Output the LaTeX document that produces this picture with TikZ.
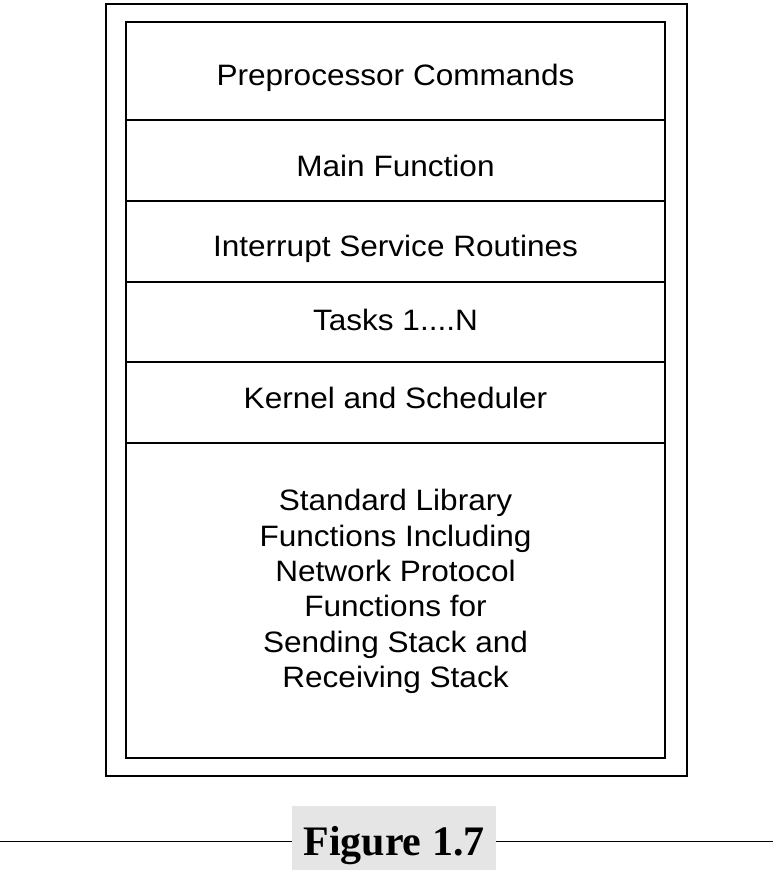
\documentclass[tikz,border=0pt]{standalone}
\usepackage{fontspec}
\setmainfont{Liberation Sans}[FakeStretch=1.07]
\newfontfamily\capfont{Liberation Serif}
\usetikzlibrary{positioning}
\tikzset{
  layer/.style={draw, line width=1.1pt, minimum width=539pt, inner sep=0pt,
    align=center, text depth=0pt, font=\fontsize{29.5}{35.4}\selectfont},
  caption/.style={fill=black!10, minimum width=204pt, minimum height=64pt,
    inner sep=0pt, text height=34pt, text depth=0pt,
    font=\capfont\bfseries\fontsize{42}{42}\selectfont}
}
\begin{document}
\begin{tikzpicture}[x=1pt, y=-1pt]
  \useasboundingbox (0,0) rectangle (773,872);
  \draw[line width=1.1pt] (106,4) rectangle (687,776);
  \path
    (395.5,71) node[layer, minimum height=98pt, text height=29.4pt] (pre){Preprocessor Commands}
    (395.5,160.5) node[layer, minimum height=81pt, text height=31pt] (main){Main Function}
    (395.5,241.5) node[layer, minimum height=81pt, text height=30.4pt] (isr){Interrupt Service Routines}
    (395.5,322) node[layer, minimum height=80pt, text height=16pt] (tasks){Tasks 1....N}
    (395.5,402.5) node[layer, minimum height=81pt, text height=12.6pt] (kernel){Kernel and Scheduler}
    (395.5,600.5) node[layer, minimum height=315pt, text depth=24pt] (lib){Standard Library\\
      Functions Including\\ Network Protocol\\ Functions for\\
      Sending Stack and\\ Receiving Stack}
    (394,838) node[caption] (fig){Figure 1.7};
  \coordinate (capl) at (0,841.5);
  \coordinate (capr) at (773,841.5);
  \begin{scope}[line width=0.9pt]
    \draw (capl) -- (capl -| fig.west);
    \draw (fig.east |- capr) -- (capr);
  \end{scope}
\end{tikzpicture}
\end{document}
